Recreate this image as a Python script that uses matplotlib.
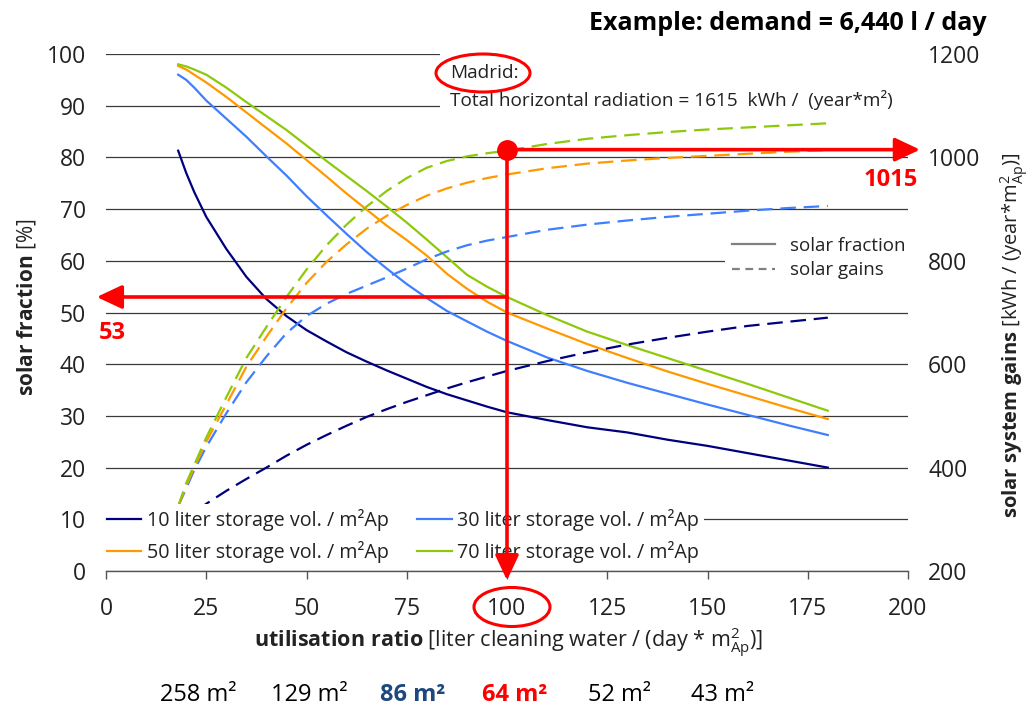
import matplotlib
matplotlib.use('Agg')
import matplotlib.pyplot as plt
from matplotlib.patches import Ellipse, Rectangle
from matplotlib.lines import Line2D

plt.rcParams['font.family'] = ['Open Sans', 'DejaVu Sans']
plt.rcParams['mathtext.fontset'] = 'custom'
plt.rcParams['mathtext.rm'] = 'Open Sans'
plt.rcParams['mathtext.bf'] = 'Open Sans:bold'
plt.rcParams['mathtext.it'] = 'Open Sans:italic'

# ---------------- data ----------------
util_ratio = [18, 20, 22, 25, 30, 35, 40, 45, 50, 55, 60, 65, 70, 75, 80, 85, 90, 95, 100,
              110, 120, 130, 140, 150, 160, 170, 180]

# solar fraction [%]
sf_10 = [81.3, 77, 73.3, 68.5, 62.3, 56.9, 52.6, 49.3, 46.6, 44.4, 42.3, 40.5, 38.8, 37.2, 35.6, 34.2, 33, 31.8, 30.7,
         29.2, 27.8, 26.8, 25.4, 24.2, 22.8, 21.4, 20]
sf_30 = [96, 95, 93.5, 91, 87.5, 84, 80.2, 76.5, 72.5, 68.8, 65.2, 61.7, 58.5, 55.5, 52.8, 50.3, 48.3, 46.3, 44.5,
         41.3, 38.7, 36.4, 34.3, 32.2, 30.2, 28.2, 26.3]
sf_50 = [97.7, 97, 96, 94.5, 91.7, 88.7, 85.7, 82.7, 79.5, 76.3, 73, 69.9, 66.8, 64, 61, 57.5, 54.6, 52.1, 50,
         46.9, 43.9, 41.2, 38.6, 36.2, 33.9, 31.6, 29.4]
sf_70 = [98, 97.6, 97, 96, 93.5, 90.7, 88, 85.3, 82.3, 79.3, 76.4, 73.5, 70.5, 67.4, 64.1, 60.7, 57.3, 55, 53,
         49.5, 46.3, 43.7, 41.2, 38.7, 36.2, 33.6, 31]

# solar system gains [kWh/(year*m2Ap)]
sg_10 = [290, 300, 312, 330, 355, 378, 400, 423, 444, 463, 481, 498, 513, 527, 540, 553, 565, 576, 587,
         606, 623, 638, 651, 663, 674, 682, 690]
sg_30 = [325, 360, 395, 440, 505, 565, 615, 660, 693, 717, 736, 752, 768, 785, 803, 818, 830, 839, 846,
         860, 870, 878, 885, 891, 897, 902, 906]
sg_50 = [325, 365, 400, 450, 522, 595, 653, 708, 757, 798, 832, 862, 887, 908, 926, 940, 951, 960, 967,
         979, 988, 994, 999, 1003, 1007, 1011, 1014]
sg_70 = [325, 370, 405, 458, 536, 612, 672, 730, 783, 830, 870, 905, 935, 960, 980, 993, 1002, 1008, 1013,
         1026, 1036, 1043, 1049, 1054, 1058, 1062, 1066]

series_labels = ['10 liter storage vol. / m²Ap', '30 liter storage vol. / m²Ap',
                 '50 liter storage vol. / m²Ap', '70 liter storage vol. / m²Ap']
series_colors = ['#00007F', '#3F7FFF', '#FF9900', '#8DC90A']

example_util = 100
example_sf = 53
example_sg = 1015

area_labels = ['258 m²', '129 m²', '86 m²', '64 m²', '52 m²', '43 m²']
area_colors = ['black', 'black', '#1F497D', '#FF0000', 'black', 'black']
area_bold = [False, False, True, True, False, False]

x_ticks = [0, 25, 50, 75, 100, 125, 150, 175, 200]
y_ticks = list(range(0, 101, 10))
y2_ticks = [200, 400, 600, 800, 1000, 1200]

# ---------------- figure ----------------
W, H = 1032, 708
fig = plt.figure(figsize=(W / 100, H / 100), dpi=100)
ax = fig.add_axes([106 / W, 1 - 571 / H, (908 - 106) / W, (571 - 54) / H])
ax2 = ax.twinx()

ax.set_xlim(0, 200)
ax.set_ylim(0, 100)
ax2.set_ylim(200, 1200)

dash = (0, (7, 3.5))
sf_all = [sf_10, sf_30, sf_50, sf_70]
sg_all = [sg_10, sg_30, sg_50, sg_70]
handles = []
for sf, sg, c, lab in zip(sf_all, sg_all, series_colors, series_labels):
    h, = ax.plot(util_ratio, sf, color=c, lw=1.6, label=lab, zorder=3)
    ax2.plot(util_ratio, sg, color=c, lw=1.6, ls=dash, zorder=3)
    handles.append(h)

# axes styling
for s in ['top', 'left', 'right']:
    ax.spines[s].set_visible(False)
ax.spines['bottom'].set_color('#555555')
ax.spines['bottom'].set_linewidth(1.0)
for s in ax2.spines.values():
    s.set_visible(False)

ax.set_xticks(x_ticks)
ax.set_yticks(y_ticks)
ax2.set_yticks(y2_ticks)
ax.tick_params(axis='x', length=6, width=1, color='#555555', pad=12.5, labelsize=16.5, labelcolor='#222222')
ax.tick_params(axis='y', length=0, pad=14.5, labelsize=16.5, labelcolor='#222222')
ax2.tick_params(axis='y', length=0, pad=14.5, labelsize=16.5, labelcolor='#222222')
ax.grid(axis='y', color='#3a3a3a', lw=0.9, zorder=0)
ax.set_axisbelow(True)

# white box behind the Madrid text (covers grid lines)
ax2.add_patch(Rectangle(((440 - 106) / 802, (571 - 113) / 517), 1 - (440 - 106) / 802, (113 - 48) / 517,
                        transform=ax2.transAxes, facecolor='white', edgecolor='none',
                        zorder=1, clip_on=False))
ax2.text((450 - 106) / 802, (571 - 73) / 517, 'Madrid:', transform=ax2.transAxes,
         fontsize=13.7, va='center', ha='left', color='#222222', zorder=2)
ax2.text((450 - 106) / 802, (571 - 100) / 517, 'Total horizontal radiation = 1615  kWh /  (year*m²)',
         transform=ax2.transAxes, fontsize=13.7, va='center', ha='left', color='#222222', zorder=2)

# legends
leg1 = ax2.legend(handles=[handles[0], handles[2], handles[1], handles[3]],
                  labels=[series_labels[0], series_labels[2], series_labels[1], series_labels[3]],
                  ncol=2, loc='lower left', bbox_to_anchor=(-0.006, 0.006), frameon=True,
                  facecolor='white', edgecolor='none', framealpha=1, fancybox=False,
                  fontsize=14.2, handlelength=1.75, handletextpad=0.28, columnspacing=1.45,
                  labelspacing=0.48, borderpad=0.27, borderaxespad=0)
leg1.set_zorder(5)
for t in leg1.get_texts():
    t.set_color('#222222')
ax2.add_artist(leg1)

gh = [Line2D([0], [0], color='#808080', lw=1.6),
      Line2D([0], [0], color='#808080', lw=1.6, ls=(0, (3.5, 2.5)))]
leg2 = ax2.legend(handles=gh, labels=['solar fraction', 'solar gains'], loc='upper left',
                  bbox_to_anchor=((725 - 106) / 802, (571 - 230) / 517), frameon=True,
                  facecolor='white', edgecolor='none', framealpha=1, fancybox=False,
                  fontsize=13.5, handlelength=2.3, handletextpad=0.8, labelspacing=0.35,
                  borderpad=0.35, borderaxespad=0)
leg2.set_zorder(5)
for t in leg2.get_texts():
    t.set_color('#222222')

# red example annotation
arrow_kw = dict(arrowstyle='-|>,head_length=0.85,head_width=0.4', color='red', lw=2.6,
                mutation_scale=18, shrinkA=0, shrinkB=0)
ax2.annotate('', xy=(203, example_sg), xytext=(example_util, example_sg),
             arrowprops=arrow_kw, annotation_clip=False, zorder=8)
ax2.annotate('', xy=(example_util, 182), xytext=(example_util, example_sg),
             arrowprops=arrow_kw, annotation_clip=False, zorder=8)
ax2.annotate('', xy=(-2.3, 200 + example_sf * 10), xytext=(example_util, 200 + example_sf * 10),
             arrowprops=arrow_kw, annotation_clip=False, zorder=8)
ax2.plot([example_util], [example_sg], 'o', color='red', ms=14, clip_on=False, zorder=9)
ax2.text(1.5, 200 + 46 * 10, str(example_sf), color='red', fontsize=17, fontweight='bold',
         ha='center', va='center', zorder=9)
ax2.text(202.5, 956, str(example_sg), color='red', fontsize=17, fontweight='bold',
         ha='right', va='center', zorder=9)

# ellipses
fig.add_artist(Ellipse((483 / W, 1 - 73 / H), 94 / W, 38 / H, transform=fig.transFigure,
                       fill=False, edgecolor='red', lw=2.2))
fig.add_artist(Ellipse((512 / W, 1 - 607 / H), 76 / W, 39 / H, transform=fig.transFigure,
                       fill=False, edgecolor='red', lw=2.2))

# titles and axis labels
fig.text(987 / W, 1 - 23 / H, 'Example: demand = 6,440 l / day', ha='right', va='center',
         fontsize=18, fontweight='bold')
fig.text(509 / W, 1 - 643 / H,
         r'$\mathbf{utilisation\ ratio}$ [liter cleaning water / (day * m$^{2}_{\mathrm{Ap}}$)]',
         ha='center', va='center', fontsize=15.5, color='#222222')
fig.text(27 / W, 1 - 307 / H, r'$\mathbf{solar\ fraction}$ [%]', rotation=90,
         ha='center', va='center', fontsize=15, color='#222222')
fig.text(1014 / W, 1 - 335 / H,
         r'$\mathbf{solar\ system\ gains}$ [kWh / (year*m$^{2}_{\mathrm{Ap}}$)]', rotation=90,
         ha='center', va='center', fontsize=14.5, color='#222222')

# collector areas row
area_px = [198, 309, 413, 515, 620, 723]
for px, lab, c, b in zip(area_px, area_labels, area_colors, area_bold):
    fig.text(px / W, 1 - 695 / H, lab, ha='center', va='center', fontsize=17,
             color=c, fontweight='bold' if b else 'normal')

fig.savefig('out.png', dpi=100)
